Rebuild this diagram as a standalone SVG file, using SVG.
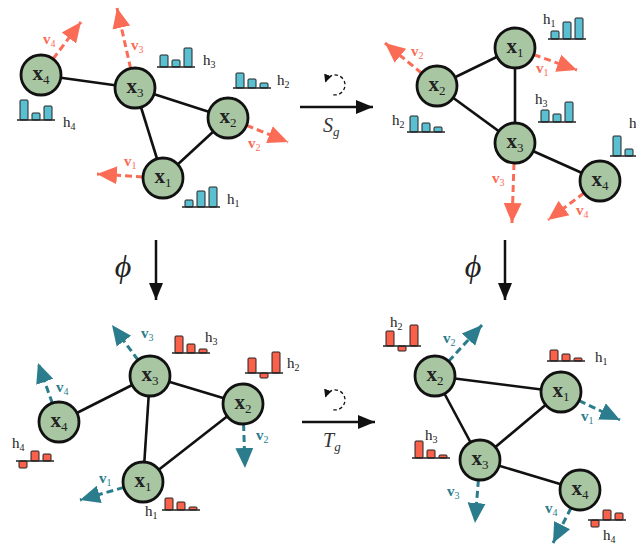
<svg xmlns="http://www.w3.org/2000/svg" width="636" height="545" viewBox="0 0 636 545">
<defs>
<style>
.bg{fill:#ffffff}
.edge{stroke:#111;stroke-width:2.6;fill:none}
.node{fill:#A9C6A2;stroke:#111;stroke-width:2.8}
.nl{font-family:"Liberation Serif","DejaVu Serif",serif;font-size:21px;font-weight:bold;fill:#222}
.nl tspan{font-size:13px;font-weight:normal}
.vr{stroke:#FB6C56;stroke-width:3;stroke-dasharray:7 4;fill:none}
.vt{stroke:#2B7C8C;stroke-width:3;stroke-dasharray:7 4;fill:none}
.lr{font-family:"Liberation Serif","DejaVu Serif",serif;font-size:15px;font-weight:bold;fill:#FB6C56}
.lt{font-family:"Liberation Serif","DejaVu Serif",serif;font-size:15px;font-weight:bold;fill:#2B7C8C}
.lr tspan,.lt tspan{font-size:10px;font-weight:normal}
.hl{font-family:"Liberation Serif","DejaVu Serif",serif;font-size:15px;fill:#222}
.hl tspan{font-size:10px}
.bb{fill:#5BBFD2;stroke:#222;stroke-width:1}
.br{fill:#F9614B;stroke:#222;stroke-width:1}
.base{stroke:#222;stroke-width:1.5}
.main{stroke:#111;stroke-width:2.5;fill:none}
.circ{stroke:#111;stroke-width:1.3;stroke-dasharray:3.5 2.5;fill:none}
.op{font-family:"Liberation Serif","DejaVu Serif",serif;font-style:italic;font-size:20px;fill:#333}
.op tspan{font-size:13px}
.phi{font-family:"Liberation Serif","DejaVu Serif",serif;font-style:italic;font-size:32px;fill:#222}
</style>
<marker id="mr" markerUnits="userSpaceOnUse" markerWidth="22" markerHeight="22" viewBox="0 0 22 22" refX="20" refY="11" orient="auto"><path d="M0,2 L20,11 L0,20 z" fill="#FB6C56"/></marker>
<marker id="mt" markerUnits="userSpaceOnUse" markerWidth="22" markerHeight="22" viewBox="0 0 22 22" refX="20" refY="11" orient="auto"><path d="M0,2 L20,11 L0,20 z" fill="#2B7C8C"/></marker>
<marker id="mb" markerUnits="userSpaceOnUse" markerWidth="18" markerHeight="18" viewBox="0 0 18 18" refX="17" refY="9" orient="auto"><path d="M0,2 L17,9 L0,16 z" fill="#111"/></marker>
<marker id="ms" markerUnits="userSpaceOnUse" markerWidth="8" markerHeight="8" viewBox="0 0 8 8" refX="7" refY="4" orient="auto"><path d="M0,0 L8,4 L0,8 z" fill="#111"/></marker>
</defs>
<rect class="bg" width="636" height="545"/>

<!-- operators -->
<g id="op-sg">
<line class="main" x1="300" y1="107" x2="373" y2="107" marker-end="url(#mb)"/>
<path class="circ" d="M333.3,94.8 A10,10 0 1 0 325.6,81.6" marker-end="url(#ms)"/>
<text class="op" x="323" y="132">S<tspan dy="4">g</tspan></text>
</g>
<g id="op-tg">
<line class="main" x1="302" y1="422" x2="375" y2="422" marker-end="url(#mb)"/>
<path class="circ" d="M333.3,409.8 A10,10 0 1 0 325.6,396.6" marker-end="url(#ms)"/>
<text class="op" x="323" y="447">T<tspan dy="4">g</tspan></text>
</g>
<g id="op-phi-l">
<line class="main" x1="156" y1="240" x2="156" y2="300" marker-end="url(#mb)"/>
<text class="phi" x="123" y="277" text-anchor="middle">ϕ</text>
</g>
<g id="op-phi-r">
<line class="main" x1="505" y1="240" x2="505" y2="300" marker-end="url(#mb)"/>
<text class="phi" x="473" y="277" text-anchor="middle">ϕ</text>
</g>

<!-- connectors -->
<g id="connectors">
<line class="edge" x1="41" y1="75" x2="135" y2="88"/>
<line class="edge" x1="135" y1="88" x2="228" y2="118"/>
<line class="edge" x1="135" y1="88" x2="163" y2="178"/>
<line class="edge" x1="163" y1="178" x2="228" y2="118"/>

<line class="edge" x1="437" y1="86" x2="515" y2="48"/>
<line class="edge" x1="515" y1="48" x2="515" y2="143"/>
<line class="edge" x1="437" y1="86" x2="515" y2="143"/>
<line class="edge" x1="515" y1="143" x2="600" y2="181"/>

<line class="edge" x1="59" y1="422" x2="150" y2="376"/>
<line class="edge" x1="150" y1="376" x2="243" y2="404"/>
<line class="edge" x1="150" y1="376" x2="143" y2="482"/>
<line class="edge" x1="143" y1="482" x2="243" y2="404"/>

<line class="edge" x1="435" y1="376" x2="561" y2="392"/>
<line class="edge" x1="435" y1="376" x2="480" y2="460"/>
<line class="edge" x1="561" y1="392" x2="480" y2="460"/>
<line class="edge" x1="480" y1="460" x2="580" y2="490"/>

<!-- velocity vectors -->
<line class="vr" x1="53" y1="59" x2="81" y2="22" marker-end="url(#mr)"/>
<line class="vr" x1="130.6" y1="68.5" x2="117" y2="8" marker-end="url(#mr)"/>
<line class="vr" x1="246.6" y1="125.4" x2="288" y2="142" marker-end="url(#mr)"/>
<line class="vr" x1="143" y1="177" x2="97" y2="174" marker-end="url(#mr)"/>

<line class="vr" x1="421.6" y1="73.2" x2="385" y2="43" marker-end="url(#mr)"/>
<line class="vr" x1="533.8" y1="54.7" x2="577" y2="70" marker-end="url(#mr)"/>
<line class="vr" x1="514" y1="163" x2="512" y2="223" marker-end="url(#mr)"/>
<line class="vr" x1="584" y1="193" x2="548" y2="220" marker-end="url(#mr)"/>

<line class="vt" x1="138" y1="360" x2="112" y2="325" marker-end="url(#mt)"/>
<line class="vt" x1="52.3" y1="403" x2="38" y2="363" marker-end="url(#mt)"/>
<line class="vt" x1="243.6" y1="424" x2="245" y2="468" marker-end="url(#mt)"/>
<line class="vt" x1="123.8" y1="487.4" x2="80" y2="500" marker-end="url(#mt)"/>

<line class="vt" x1="448.6" y1="361.3" x2="482" y2="325" marker-end="url(#mt)"/>
<line class="vt" x1="579" y1="400.6" x2="620" y2="420" marker-end="url(#mt)"/>
<line class="vt" x1="478.4" y1="480" x2="475" y2="523" marker-end="url(#mt)"/>
<line class="vt" x1="571" y1="508" x2="553" y2="543" marker-end="url(#mt)"/>
</g>

<!-- velocity labels -->
<g id="vlabels">
<text class="lr" x="43" y="44">v<tspan dy="3">4</tspan></text>
<text class="lr" x="131" y="50">v<tspan dy="3">3</tspan></text>
<text class="lr" x="248" y="148">v<tspan dy="3">2</tspan></text>
<text class="lr" x="124" y="166">v<tspan dy="3">1</tspan></text>

<text class="lr" x="411" y="56">v<tspan dy="3">2</tspan></text>
<text class="lr" x="536" y="73">v<tspan dy="3">1</tspan></text>
<text class="lr" x="492" y="183">v<tspan dy="3">3</tspan></text>
<text class="lr" x="576" y="215">v<tspan dy="3">4</tspan></text>

<text class="lt" x="141" y="338">v<tspan dy="3">3</tspan></text>
<text class="lt" x="56" y="392">v<tspan dy="3">4</tspan></text>
<text class="lt" x="256" y="440">v<tspan dy="3">2</tspan></text>
<text class="lt" x="99" y="483">v<tspan dy="3">1</tspan></text>

<text class="lt" x="443" y="343">v<tspan dy="3">2</tspan></text>
<text class="lt" x="581" y="421">v<tspan dy="3">1</tspan></text>
<text class="lt" x="447" y="496">v<tspan dy="3">3</tspan></text>
<text class="lt" x="545" y="513">v<tspan dy="3">4</tspan></text>
</g>

<!-- nodes -->
<g id="tl-x4"><circle class="node" cx="41" cy="75" r="20"/><text class="nl" x="41" y="80" text-anchor="middle">x<tspan dy="4">4</tspan></text></g>
<g id="tl-x3"><circle class="node" cx="135" cy="88" r="20"/><text class="nl" x="135" y="93" text-anchor="middle">x<tspan dy="4">3</tspan></text></g>
<g id="tl-x2"><circle class="node" cx="228" cy="118" r="20"/><text class="nl" x="228" y="123" text-anchor="middle">x<tspan dy="4">2</tspan></text></g>
<g id="tl-x1"><circle class="node" cx="163" cy="178" r="20"/><text class="nl" x="163" y="183" text-anchor="middle">x<tspan dy="4">1</tspan></text></g>

<g id="tr-x1"><circle class="node" cx="515" cy="48" r="20"/><text class="nl" x="515" y="53" text-anchor="middle">x<tspan dy="4">1</tspan></text></g>
<g id="tr-x2"><circle class="node" cx="437" cy="86" r="20"/><text class="nl" x="437" y="91" text-anchor="middle">x<tspan dy="4">2</tspan></text></g>
<g id="tr-x3"><circle class="node" cx="515" cy="143" r="20"/><text class="nl" x="515" y="148" text-anchor="middle">x<tspan dy="4">3</tspan></text></g>
<g id="tr-x4"><circle class="node" cx="600" cy="181" r="20"/><text class="nl" x="600" y="186" text-anchor="middle">x<tspan dy="4">4</tspan></text></g>

<g id="bl-x3"><circle class="node" cx="150" cy="376" r="20"/><text class="nl" x="150" y="381" text-anchor="middle">x<tspan dy="4">3</tspan></text></g>
<g id="bl-x2"><circle class="node" cx="243" cy="404" r="20"/><text class="nl" x="243" y="409" text-anchor="middle">x<tspan dy="4">2</tspan></text></g>
<g id="bl-x4"><circle class="node" cx="59" cy="422" r="20"/><text class="nl" x="59" y="427" text-anchor="middle">x<tspan dy="4">4</tspan></text></g>
<g id="bl-x1"><circle class="node" cx="143" cy="482" r="20"/><text class="nl" x="143" y="487" text-anchor="middle">x<tspan dy="4">1</tspan></text></g>

<g id="br-x2"><circle class="node" cx="435" cy="376" r="20"/><text class="nl" x="435" y="381" text-anchor="middle">x<tspan dy="4">2</tspan></text></g>
<g id="br-x1"><circle class="node" cx="561" cy="392" r="20"/><text class="nl" x="561" y="397" text-anchor="middle">x<tspan dy="4">1</tspan></text></g>
<g id="br-x3"><circle class="node" cx="480" cy="460" r="20"/><text class="nl" x="480" y="465" text-anchor="middle">x<tspan dy="4">3</tspan></text></g>
<g id="br-x4"><circle class="node" cx="580" cy="490" r="20"/><text class="nl" x="580" y="495" text-anchor="middle">x<tspan dy="4">4</tspan></text></g>

<!-- histograms top-left -->
<g id="tl-h3" transform="translate(157,67)"><rect class="bb" x="3" y="-12" width="8" height="12" rx="1"/><rect class="bb" x="15" y="-7" width="8" height="7" rx="1"/><rect class="bb" x="27" y="-19" width="8" height="19" rx="1"/><line class="base" x1="0" y1="0" x2="38" y2="0"/></g>
<text class="hl" x="203" y="65">h<tspan dy="3">3</tspan></text>
<g id="tl-h2" transform="translate(233,88)"><rect class="bb" x="3" y="-15" width="8" height="15" rx="1"/><rect class="bb" x="15" y="-9" width="8" height="9" rx="1"/><rect class="bb" x="27" y="-5" width="8" height="5" rx="1"/><line class="base" x1="0" y1="0" x2="38" y2="0"/></g>
<text class="hl" x="277" y="85">h<tspan dy="3">2</tspan></text>
<g id="tl-h4" transform="translate(17,120)"><rect class="bb" x="3" y="-20" width="8" height="20" rx="1"/><rect class="bb" x="15" y="-7" width="8" height="7" rx="1"/><rect class="bb" x="27" y="-14" width="8" height="14" rx="1"/><line class="base" x1="0" y1="0" x2="38" y2="0"/></g>
<text class="hl" x="63" y="127">h<tspan dy="3">4</tspan></text>
<g id="tl-h1" transform="translate(182,207)"><rect class="bb" x="3" y="-7" width="8" height="7" rx="1"/><rect class="bb" x="15" y="-16" width="8" height="16" rx="1"/><rect class="bb" x="27" y="-20" width="8" height="20" rx="1"/><line class="base" x1="0" y1="0" x2="38" y2="0"/></g>
<text class="hl" x="227" y="204">h<tspan dy="3">1</tspan></text>

<!-- histograms top-right -->
<g id="tr-h1" transform="translate(548,39)"><rect class="bb" x="3" y="-8" width="8" height="8" rx="1"/><rect class="bb" x="15" y="-17" width="8" height="17" rx="1"/><rect class="bb" x="27" y="-21" width="8" height="21" rx="1"/><line class="base" x1="0" y1="0" x2="38" y2="0"/></g>
<text class="hl" x="543" y="24">h<tspan dy="3">1</tspan></text>
<g id="tr-h3" transform="translate(538,122)"><rect class="bb" x="3" y="-12" width="8" height="12" rx="1"/><rect class="bb" x="15" y="-8" width="8" height="8" rx="1"/><rect class="bb" x="27" y="-20" width="8" height="20" rx="1"/><line class="base" x1="0" y1="0" x2="38" y2="0"/></g>
<text class="hl" x="535" y="104">h<tspan dy="3">3</tspan></text>
<g id="tr-h2" transform="translate(407,132)"><rect class="bb" x="3" y="-16" width="8" height="16" rx="1"/><rect class="bb" x="15" y="-9" width="8" height="9" rx="1"/><rect class="bb" x="27" y="-5" width="8" height="5" rx="1"/><line class="base" x1="0" y1="0" x2="38" y2="0"/></g>
<text class="hl" x="392" y="125">h<tspan dy="3">2</tspan></text>
<g id="tr-h4" transform="translate(610,156)"><rect class="bb" x="3" y="-20" width="8" height="20" rx="1"/><rect class="bb" x="15" y="-7" width="8" height="7" rx="1"/><rect class="bb" x="27" y="-14" width="8" height="14" rx="1"/><line class="base" x1="0" y1="0" x2="38" y2="0"/></g>
<text class="hl" x="629" y="128">h<tspan dy="3">4</tspan></text>

<!-- histograms bottom-left -->
<g id="bl-h3" transform="translate(172,353)"><rect class="br" x="3" y="-17" width="8" height="17" rx="1"/><rect class="br" x="15" y="-9" width="8" height="9" rx="1"/><rect class="br" x="27" y="-4" width="8" height="4" rx="1"/><line class="base" x1="0" y1="0" x2="38" y2="0"/></g>
<text class="hl" x="205" y="342">h<tspan dy="3">3</tspan></text>
<g id="bl-h2" transform="translate(245,373)"><rect class="br" x="3" y="-15" width="8" height="15" rx="1"/><rect class="br" x="15" y="0" width="8" height="5" rx="1"/><rect class="br" x="27" y="-21" width="8" height="21" rx="1"/><line class="base" x1="0" y1="0" x2="38" y2="0"/></g>
<text class="hl" x="287" y="368">h<tspan dy="3">2</tspan></text>
<g id="bl-h4" transform="translate(16,461)"><rect class="br" x="3" y="0" width="8" height="7" rx="1"/><rect class="br" x="15" y="-10" width="8" height="10" rx="1"/><rect class="br" x="27" y="-7" width="8" height="7" rx="1"/><line class="base" x1="0" y1="0" x2="38" y2="0"/></g>
<text class="hl" x="12" y="448">h<tspan dy="3">4</tspan></text>
<g id="bl-h1" transform="translate(162,510)"><rect class="br" x="3" y="-12" width="8" height="12" rx="1"/><rect class="br" x="15" y="-8" width="8" height="8" rx="1"/><rect class="br" x="27" y="-3" width="8" height="3" rx="1"/><line class="base" x1="0" y1="0" x2="38" y2="0"/></g>
<text class="hl" x="145" y="516">h<tspan dy="3">1</tspan></text>

<!-- histograms bottom-right -->
<g id="br-h2" transform="translate(383,346)"><rect class="br" x="3" y="-15" width="8" height="15" rx="1"/><rect class="br" x="15" y="0" width="8" height="5" rx="1"/><rect class="br" x="27" y="-21" width="8" height="21" rx="1"/><line class="base" x1="0" y1="0" x2="38" y2="0"/></g>
<text class="hl" x="390" y="327">h<tspan dy="3">2</tspan></text>
<g id="br-h1" transform="translate(547,361)"><rect class="br" x="3" y="-11" width="8" height="11" rx="1"/><rect class="br" x="15" y="-7" width="8" height="7" rx="1"/><rect class="br" x="27" y="-3" width="8" height="3" rx="1"/><line class="base" x1="0" y1="0" x2="38" y2="0"/></g>
<text class="hl" x="595" y="362">h<tspan dy="3">1</tspan></text>
<g id="br-h3" transform="translate(412,458)"><rect class="br" x="3" y="-17" width="8" height="17" rx="1"/><rect class="br" x="15" y="-8" width="8" height="8" rx="1"/><rect class="br" x="27" y="-3" width="8" height="3" rx="1"/><line class="base" x1="0" y1="0" x2="38" y2="0"/></g>
<text class="hl" x="425" y="440">h<tspan dy="3">3</tspan></text>
<g id="br-h4" transform="translate(588,520)"><rect class="br" x="3" y="0" width="8" height="7" rx="1"/><rect class="br" x="15" y="-10" width="8" height="10" rx="1"/><rect class="br" x="27" y="-7" width="8" height="7" rx="1"/><line class="base" x1="0" y1="0" x2="38" y2="0"/></g>
<text class="hl" x="603" y="540">h<tspan dy="3">4</tspan></text>
</svg>
